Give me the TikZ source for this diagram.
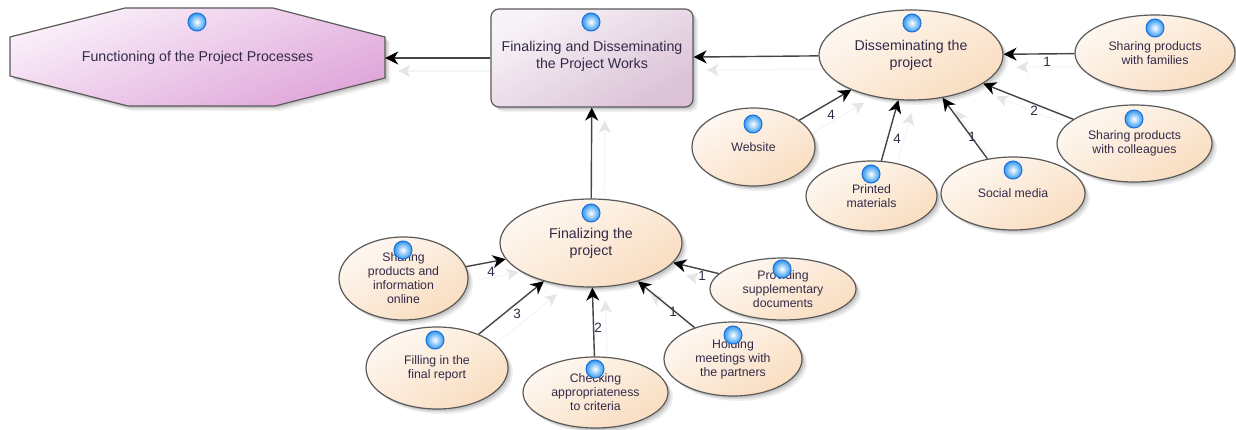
\documentclass[tikz,border=0pt]{standalone}
\usepackage{fontspec}
\setmainfont{Liberation Sans}
\usetikzlibrary{shapes.geometric,shadows,arrows.meta}
\pgfdeclarelayer{ghostlayer}
\pgfsetlayers{ghostlayer,main}
\definecolor{ink}{HTML}{332A48}
\definecolor{edgeline}{HTML}{444444}
\definecolor{bord}{HTML}{5A5A5A}
\definecolor{HTML1}{HTML}{FEF8F2}
\definecolor{HTML2}{HTML}{F9DDC0}
\definecolor{HTML3}{HTML}{F8F3F8}
\definecolor{HTML4}{HTML}{DBC2D6}
\definecolor{HTML5}{HTML}{FAF0FA}
\definecolor{HTML6}{HTML}{DFA6DA}
\definecolor{HTML7}{HTML}{1E6FD8}
\definecolor{HTML8}{HTML}{2F98F0}
\tikzset{
  softshadow/.style={
    drop shadow={shadow xshift=5pt,shadow yshift=-5pt,opacity=.06,fill=black},
    drop shadow={shadow xshift=3.5pt,shadow yshift=-3.5pt,opacity=.08,fill=black},
    drop shadow={shadow xshift=2pt,shadow yshift=-2pt,opacity=.10,fill=black}},
  base/.style={draw=bord,line width=1.2pt,inner sep=0pt,align=center,text=ink,softshadow},
  leaf/.style={base,ellipse,top color=HTML1,bottom color=HTML2,shading angle=30,font=\fontsize{12.3}{14}\selectfont},
  hub/.style={leaf,font=\fontsize{14.2}{17}\selectfont},
  boxnode/.style={base,rounded corners=8pt,top color=HTML3,bottom color=HTML4,shading angle=30,font=\fontsize{14.2}{17}\selectfont},
  octshape/.style={base,top color=HTML5,bottom color=HTML6,shading angle=22},
  octtext/.style={inner sep=0pt,align=center,text=ink,font=\fontsize{14.2}{17}\selectfont},
  ballnode/.style={circle,minimum size=18pt,inner sep=0pt,draw=HTML7,line width=1pt,inner color=white,outer color=HTML8},
  link/.style={draw=edgeline,line width=1.4pt,-{Stealth[length=13pt,width=13pt,inset=4pt,color=black]}},
  ghost/.style={draw=black!4,line width=1.2pt,-{Stealth[length=12pt,width=12pt,inset=3pt,color=black!10]},
    transform canvas={xshift=13pt,yshift=-13pt}},
  nlabel/.style={inner sep=0pt,text=ink,font=\fontsize{13.5}{14}\selectfont}
}
\begin{document}
\begin{tikzpicture}[x=1pt,y=-1pt]
\useasboundingbox (0,0) rectangle (1236,430);
\path[octshape] (10,37) -- (125,8) -- (273,8) -- (385,37) -- (385,78) -- (275,106) -- (128,106) -- (10,76) -- cycle;
\node[octtext,minimum width=375pt,minimum height=98pt] (oct) at (197.5,58) {Functioning of the Project Processes};
\node[boxnode,minimum width=202pt,minimum height=98pt] (box) at (592,58) {Finalizing and Disseminating\\the Project Works\\[-11.5pt]\mbox{}};
\node[hub,minimum width=184pt,minimum height=90pt] (diss) at (911,55) {Disseminating the\\project};
\node[hub,minimum width=182pt,minimum height=88pt] (fin) at (591,243) {Finalizing the\\project};
\node[leaf,minimum width=160pt,minimum height=76pt] (fam) at (1155,53) {Sharing products\\with families};
\node[leaf,minimum width=155pt,minimum height=77pt] (col) at (1134.5,143.5) {Sharing products\\with colleagues};
\node[leaf,minimum width=144pt,minimum height=73pt] (soc) at (1013,193.5) {Social media};
\node[leaf,minimum width=131pt,minimum height=70pt] (pri) at (871.5,196) {Printed\\materials};
\node[leaf,minimum width=123pt,minimum height=78pt] (web) at (753.5,147) {Website};
\node[leaf,minimum width=129pt,minimum height=83pt] (sha) at (403.5,278.5) {Sharing\\products and\\information\\online};
\node[leaf,minimum width=142pt,minimum height=82pt] (fil) at (437,368) {Filling in the\\final report};
\node[leaf,minimum width=145pt,minimum height=71pt] (che) at (595.5,392.5) {Checking\\appropriateness\\to criteria};
\node[leaf,minimum width=138pt,minimum height=74pt] (hol) at (733,359) {Holding\\meetings with\\the partners};
\node[leaf,minimum width=146pt,minimum height=62pt] (pro) at (783,289) {Providing\\supplementary\\documents};
\foreach \a/\b in {box/oct,diss/box,fin/box,fam/diss,col/diss,soc/diss,pri/diss,web/diss,sha/fin,fil/fin,che/fin,hol/fin,pro/fin}{
  \begin{pgfonlayer}{ghostlayer}
  \draw[ghost] (\a) -- (\b);
  \end{pgfonlayer}
  \draw[link] (\a) -- (\b);
}
\node[ballnode] (b1) at (197,22) {};
\node[ballnode] (b2) at (591,22) {};
\node[ballnode] (b3) at (912,23) {};
\node[ballnode] (b4) at (1155,28) {};
\node[ballnode] (b5) at (1134,119) {};
\node[ballnode] (b6) at (1013,170) {};
\node[ballnode] (b7) at (871,174) {};
\node[ballnode] (b8) at (753,124) {};
\node[ballnode] (b9) at (591,213) {};
\node[ballnode] (b10) at (403,250) {};
\node[ballnode] (b11) at (435,340) {};
\node[ballnode] (b12) at (595,369) {};
\node[ballnode] (b13) at (733,335) {};
\node[ballnode] (b14) at (782,269) {};
\node[nlabel] (n1) at (1047,62) {1};
\node[nlabel] (n2) at (1034,111) {2};
\node[nlabel] (n3) at (972,137) {1};
\node[nlabel] (n4) at (897,139) {4};
\node[nlabel] (n5) at (831,115) {4};
\node[nlabel] (n6) at (491,272) {4};
\node[nlabel] (n7) at (517,314) {3};
\node[nlabel] (n8) at (598,328) {2};
\node[nlabel] (n9) at (673,312) {1};
\node[nlabel] (n10) at (702,276) {1};
\end{tikzpicture}
\end{document}
